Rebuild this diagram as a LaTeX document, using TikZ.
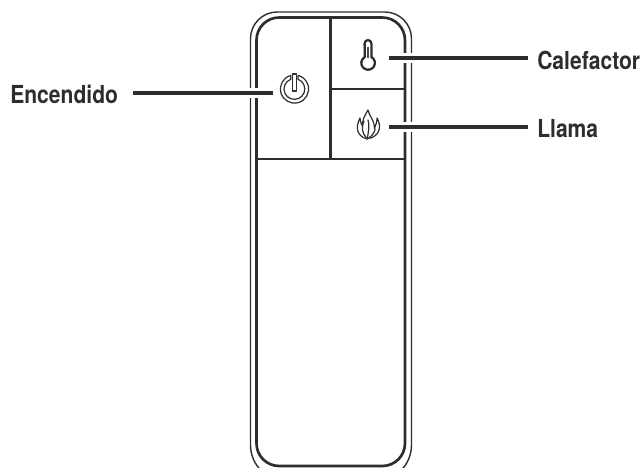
\documentclass[tikz,border=0pt]{standalone}
\usepackage{fontspec}
\setmainfont{TeX Gyre Heros}
\newfontfamily\labelfont[FakeStretch=0.85]{TeX Gyre Heros}
\definecolor{ink}{HTML}{2E2C2D}
\tikzset{
  x=0.75pt,y=-0.75pt,
  thinline/.style={draw=ink,line width=1.05pt},
  thickline/.style={draw=ink,line width=2pt},
  midline/.style={draw=ink,line width=1.6pt},
  leader/.style={draw=ink,line width=2.9pt},
  gap/.style={draw=white,line width=7.5pt},
  callout/.style={font=\labelfont\fontsize{18.6}{20}\selectfont\bfseries,text=ink,inner sep=0pt},
  icon/.style={draw=ink,line width=0.9pt,line join=round,line cap=round},
}
\begin{document}
\begin{tikzpicture}
\useasboundingbox (0,0) rectangle (644,468);
\clip (0,0) rectangle (644,468);
% body
\draw[thinline,rounded corners=20pt] (331,12) -- (411.5,12) -- (411.5,300) [rounded corners=27pt] -- (411.5,481) -- (250.5,481) -- (250.5,300) [rounded corners=20pt] -- (250.5,12) -- cycle;
\draw[thickline,rounded corners=17pt] (256.5,17.5) -- (405,17.5) -- (405,466) -- (256.5,466) -- cycle;
% keys
\coordinate (kt) at (330.7,17.5);
\coordinate (kb) at (330.7,159);
\coordinate (bl) at (256.5,159);
\coordinate (br) at (405,159);
\coordinate (ml) at (330.7,89.3);
\coordinate (mr) at (405,89.3);
\draw[midline] (bl) -- (br);
\draw[thickline] (kt) -- (kb);
\draw[midline] (ml) -- (mr);
% labels
\node[callout,anchor=west] (enc) at (10,94) {Encendido};
\node[callout,anchor=west] (cal) at (537,60) {Calefactor};
\node[callout,anchor=west] (lla) at (537,129) {Llama};
% leaders
\coordinate (a2) at (272.7,92.7);
\coordinate (b1) at (389,58.3);
\coordinate (c1) at (389,126.7);
\coordinate (ag1) at (246,92.7); \coordinate (ag2) at (262,92.7);
\coordinate (bg1) at (400,58.3); \coordinate (bg2) at (416,58.3);
\coordinate (cg1) at (400,126.7); \coordinate (cg2) at (416,126.7);
\draw[gap] (ag1) -- (ag2);
\draw[gap] (bg1) -- (bg2);
\draw[gap] (cg1) -- (cg2);
\draw[leader,shorten <=11.2pt] (enc.east |- a2) -- (a2);
\draw[leader,shorten >=7pt] (b1) -- (cal.west |- b1);
\draw[leader,shorten >=7pt] (c1) -- (lla.west |- c1);
% power icon
\draw[icon] (290.85,75.4) arc[start angle=105,end angle=435,radius=14.1*0.75pt] -- (297.95,79.2) arc[start angle=70,end angle=-250,radius=10.4*0.75pt] -- cycle;
\draw[icon,fill=white] (292.3,74) rectangle (296.7,91);
% thermometer
\draw[icon,line width=1.7pt] (364.6,43.5) arc[start angle=180,end angle=0,radius=3.4*0.75pt] -- (371.4,57) arc[start angle=61,end angle=-241,radius=6.8*0.75pt] -- cycle;
\fill[ink!85] (366.9,46.5) rectangle (369.1,58);
% flame
\draw[icon] (367,139) .. controls (357,136) and (355,128) .. (360,118) .. controls (360.5,122) and (361,124) .. (362.5,126) .. controls (362,120) and (365,115) .. (368,110) .. controls (369,116) and (375,121) .. (374.5,128) .. controls (376,125) and (377,122) .. (377,118) .. controls (381,125) and (381,134) .. (371,138) .. controls (370,138) and (368,138) .. (367,139) -- cycle;
\draw[icon] (366.5,138) .. controls (362,133) and (361,127) .. (364,121);
\draw[icon] (367.5,138) .. controls (368,132) and (370,128) .. (368,120);
\draw[icon] (369,138) .. controls (374,134) and (376,130) .. (374.5,127);
\end{tikzpicture}
\end{document}
